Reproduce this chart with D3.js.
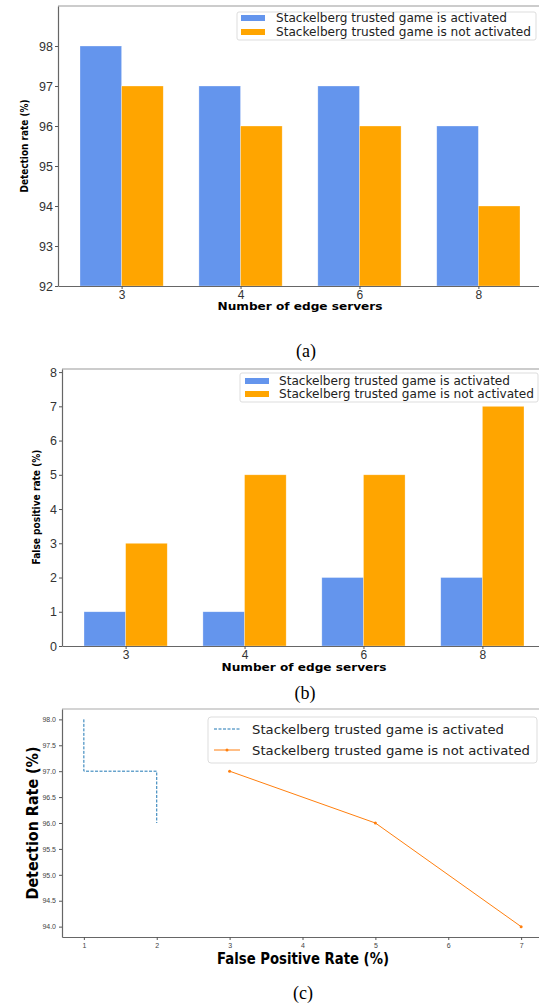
<!DOCTYPE html>
<html>
<head>
<meta charset="utf-8">
<script src="https://cdn.jsdelivr.net/npm/d3@7"></script>
<style>
  body { margin: 0; background: #fff; }
  svg { display: block; }
</style>
</head>
<body>
<div id="chart"></div>
<script>
// data
const servers = ["3", "4", "6", "8"];
const detectionOn = [98, 97, 97, 96];
const detectionOff = [97, 96, 96, 94];
const fpOn = [1, 1, 2, 2];
const fpOff = [3, 5, 5, 7];
const detTicks = [92, 93, 94, 95, 96, 97, 98];
const fpTicks = [0, 1, 2, 3, 4, 5, 6, 7, 8];
const rocX = [1, 2, 3, 4, 5, 6, 7];
const rocY = [94.0, 94.5, 95.0, 95.5, 96.0, 96.5, 97.0, 97.5, 98.0];
// roc curves: false positive vs detection
const rocOnFp = [1, 1, 2, 2];
const rocOnDet = [98, 97, 97, 96];
const rocOffFp = [3, 5, 7];
const rocOffDet = [97, 96, 94];

const labelOn = "Stackelberg trusted game is activated";
const labelOff = "Stackelberg trusted game is not activated";

const W = 539, H = 1006;
const blue = "#6495ED", orange = "#FFA500";

const svg = d3.select("#chart").append("svg")
    .attr("width", W)
    .attr("height", H)
    .style("font-family", "'DejaVu Sans', sans-serif");

function barPanel(o) {
    const g = svg.append("g");
    const x = d3.scaleLinear().domain([-0.535, 3.535]).range([o.left, o.left + 484]);
    const y = d3.scaleLinear().domain(o.ydom).range([o.bottom, o.top]);
    const bw = x(0.35) - x(0);

    g.selectAll(".on").data(o.on).join("rect")
        .attr("x", (d, i) => x(i - 0.35))
        .attr("y", d => y(d))
        .attr("width", bw)
        .attr("height", d => y(o.ydom[0]) - y(d))
        .attr("fill", blue)
        .attr("stroke", "#fff").attr("stroke-width", 0.6).attr("stroke-opacity", 0.5);

    g.selectAll(".off").data(o.off).join("rect")
        .attr("x", (d, i) => x(i))
        .attr("y", d => y(d))
        .attr("width", bw)
        .attr("height", d => y(o.ydom[0]) - y(d))
        .attr("fill", orange)
        .attr("stroke", "#fff").attr("stroke-width", 0.6).attr("stroke-opacity", 0.5);

    // top spine
    g.append("line").attr("x1", x.range()[0]).attr("x2", x.range()[1])
        .attr("y1", o.top).attr("y2", o.top).attr("stroke", "#999").attr("stroke-width", 1.2);

    const ax = g.append("g")
        .attr("transform", `translate(0,${o.bottom})`)
        .call(d3.axisBottom(x).tickValues([0, 1, 2, 3]).tickFormat(i => servers[i]).tickSize(3).tickSizeOuter(0));
    ax.select(".domain").attr("stroke", "#666").attr("stroke-width", 1.2);
    ax.selectAll(".tick line").attr("stroke", "#555");
    ax.selectAll(".tick text").attr("fill", "#333").style("font-size", "12px").attr("dy", "0.75em").attr("y", 4);

    const ay = g.append("g")
        .attr("transform", `translate(${o.left},0)`)
        .call(d3.axisLeft(y).tickValues(o.ticks).tickFormat(d3.format("d")).tickSize(3).tickSizeOuter(0));
    ay.select(".domain").attr("stroke", "#666").attr("stroke-width", 1.2);
    ay.selectAll(".tick line").attr("stroke", "#555");
    ay.selectAll(".tick text").attr("fill", "#333").style("font-size", "12.5px").attr("x", -5);

    g.append("text")
        .attr("x", o.xlab[0]).attr("y", o.xlab[1])
        .attr("text-anchor", "middle").attr("dominant-baseline", "central")
        .attr("textLength", 165).attr("lengthAdjust", "spacingAndGlyphs")
        .style("font-size", "10.5px").style("font-weight", "bold")
        .text("Number of edge servers");

    g.append("text")
        .attr("transform", `translate(${o.ylab[0]},${o.ylab[1]}) rotate(-90)`)
        .attr("text-anchor", "middle").attr("dominant-baseline", "central")
        .attr("textLength", o.ylab[2]).attr("lengthAdjust", "spacingAndGlyphs")
        .style("font-size", "10.5px").style("font-weight", "bold")
        .text(o.ytitle);

    // legend
    const lg = g.append("g");
    lg.append("rect")
        .attr("x", o.leg.x).attr("y", o.leg.y).attr("width", o.leg.w).attr("height", o.leg.h)
        .attr("rx", 2).attr("fill", "#fff").attr("fill-opacity", 0.8).attr("stroke", "#ddd");
    [[blue, labelOn, o.leg.l1, 231], [orange, labelOff, o.leg.l2, 255]].forEach(([c, t, cy, len]) => {
        lg.append("rect").attr("x", o.leg.px).attr("y", cy - 3).attr("width", 24).attr("height", 6).attr("fill", c);
        lg.append("text").attr("x", o.leg.tx).attr("y", cy)
            .attr("dominant-baseline", "central")
            .attr("textLength", len).attr("lengthAdjust", "spacingAndGlyphs")
            .style("font-size", "11.5px").attr("fill", "#222")
            .text(t);
    });

    svg.append("text")
        .attr("x", o.cap[0]).attr("y", o.cap[1])
        .attr("text-anchor", "middle").attr("dominant-baseline", "central")
        .style("font-family", "'Liberation Serif', serif").style("font-size", "18px")
        .text(o.caption);
}

barPanel({
    left: 58, top: 6, bottom: 286, ydom: [92, 99], ticks: detTicks,
    on: detectionOn, off: detectionOff,
    xlab: [300, 306], ylab: [24, 146, 93], ytitle: "Detection rate (%)",
    leg: { x: 237, y: 12, w: 299, h: 28, px: 241, tx: 276, l1: 18, l2: 32 },
    cap: [306, 351], caption: "(a)"
});

barPanel({
    left: 62, top: 369, bottom: 646, ydom: [0, 8.09], ticks: fpTicks,
    on: fpOn, off: fpOff,
    xlab: [304, 667], ylab: [36, 507, 115], ytitle: "False positive rate (%)",
    leg: { x: 240, y: 373, w: 298, h: 29, px: 245, tx: 279, l1: 381, l2: 394 },
    cap: [305, 693], caption: "(b)"
});

// panel (c): detection vs false positive
(function () {
    const left = 62, top = 709, bottom = 937;
    const x = d3.scaleLinear().domain([0.7, 7.3]).range([left, left + 481]);
    const y = d3.scaleLinear().domain([93.8, 98.2]).range([bottom, top]);
    const g = svg.append("g");

    g.append("line").attr("x1", left).attr("x2", x(7.3))
        .attr("y1", top).attr("y2", top).attr("stroke", "#aaa").attr("stroke-width", 1.2);

    const ax = g.append("g")
        .attr("transform", `translate(0,${bottom})`)
        .call(d3.axisBottom(x).tickValues(rocX).tickFormat(d3.format("d")).tickSize(3).tickSizeOuter(0));
    ax.select(".domain").attr("stroke", "#666").attr("stroke-width", 1.2);
    ax.selectAll(".tick line").attr("stroke", "#555");
    ax.selectAll(".tick text").attr("fill", "#444").style("font-size", "7px");

    const ay = g.append("g")
        .attr("transform", `translate(${left},0)`)
        .call(d3.axisLeft(y).tickValues(rocY).tickFormat(d3.format(".1f")).tickSize(3).tickSizeOuter(0));
    ay.select(".domain").attr("stroke", "#666").attr("stroke-width", 1.2);
    ay.selectAll(".tick line").attr("stroke", "#555");
    ay.selectAll(".tick text").attr("fill", "#444").style("font-size", "7px");

    const line = d3.line().x(d => x(d[0])).y(d => y(d[1]));
    const onPts = rocOnFp.map((v, i) => [v, rocOnDet[i]]);
    const offPts = rocOffFp.map((v, i) => [v, rocOffDet[i]]);

    g.append("path").attr("d", line(onPts))
        .attr("fill", "none").attr("stroke", "#1f77b4").attr("stroke-width", 1)
        .attr("stroke-dasharray", "3,1.5");

    g.append("path").attr("d", line(offPts))
        .attr("fill", "none").attr("stroke", "#ff7f0e").attr("stroke-width", 1);
    g.selectAll(".mk").data(offPts).join("circle")
        .attr("cx", d => x(d[0])).attr("cy", d => y(d[1])).attr("r", 1.5)
        .attr("fill", "#ff7f0e");

    g.append("text")
        .attr("x", 303).attr("y", 959)
        .attr("text-anchor", "middle").attr("dominant-baseline", "central")
        .attr("textLength", 172).attr("lengthAdjust", "spacingAndGlyphs")
        .style("font-size", "15px").style("font-weight", "bold")
        .text("False Positive Rate (%)");

    g.append("text")
        .attr("transform", "translate(33,823) rotate(-90)")
        .attr("text-anchor", "middle").attr("dominant-baseline", "central")
        .attr("textLength", 153).attr("lengthAdjust", "spacingAndGlyphs")
        .style("font-size", "15px").style("font-weight", "bold")
        .text("Detection Rate (%)");

    const lg = g.append("g");
    lg.append("rect").attr("x", 208).attr("y", 717).attr("width", 329).attr("height", 46)
        .attr("rx", 3).attr("fill", "#fff").attr("fill-opacity", 0.8).attr("stroke", "#ddd");
    lg.append("line").attr("x1", 214).attr("x2", 240).attr("y1", 729).attr("y2", 729)
        .attr("stroke", "#1f77b4").attr("stroke-width", 1).attr("stroke-dasharray", "3,1.5");
    lg.append("line").attr("x1", 214).attr("x2", 240).attr("y1", 750).attr("y2", 750)
        .attr("stroke", "#ff7f0e").attr("stroke-width", 1);
    lg.append("circle").attr("cx", 227).attr("cy", 750).attr("r", 1.5).attr("fill", "#ff7f0e");
    [[labelOn, 729, 252], [labelOff, 750, 278]].forEach(([t, cy, len]) => {
        lg.append("text").attr("x", 252).attr("y", cy)
            .attr("dominant-baseline", "central")
            .attr("textLength", len).attr("lengthAdjust", "spacingAndGlyphs")
            .style("font-size", "13px").attr("fill", "#222")
            .text(t);
    });

    svg.append("text")
        .attr("x", 303).attr("y", 993)
        .attr("text-anchor", "middle").attr("dominant-baseline", "central")
        .style("font-family", "'Liberation Serif', serif").style("font-size", "18px")
        .text("(c)");
})();
</script>
</body>
</html>
